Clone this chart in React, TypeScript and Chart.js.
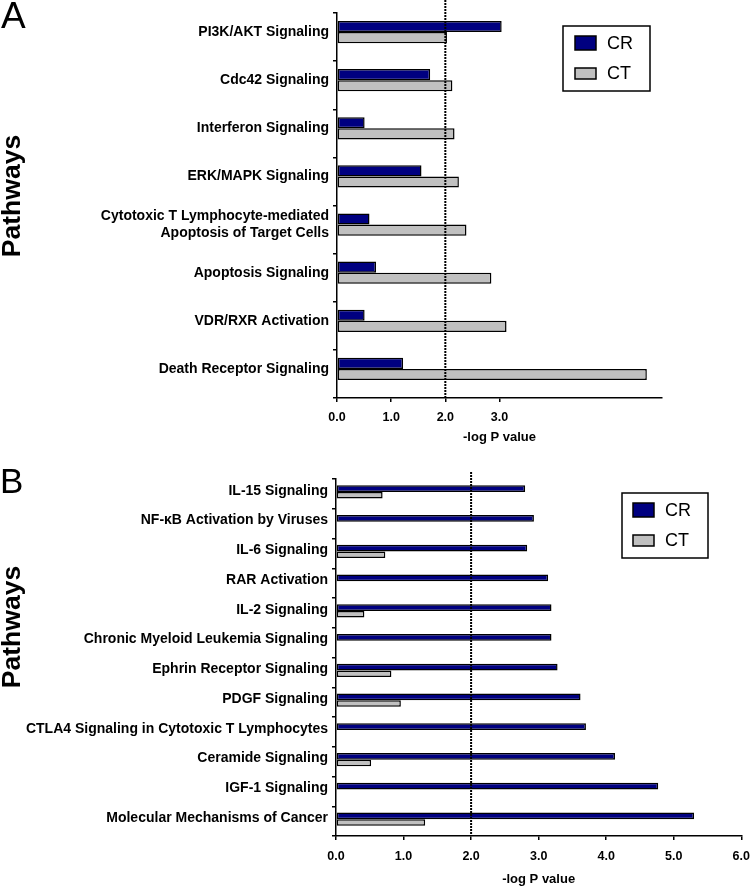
import React, { useEffect, useRef } from 'react';
import { Chart, registerables } from 'chart.js';

Chart.register(...registerables);

const FONT = '"Liberation Sans", Arial, sans-serif';

// ---------- Data ----------
const seriesNames = ['CR', 'CT'];
const seriesColors = ['#000080', '#c0c0c0'];

const pathwaysA: (string | string[])[] = [
  'PI3K/AKT Signaling',
  'Cdc42 Signaling',
  'Interferon Signaling',
  'ERK/MAPK Signaling',
  ['Cytotoxic T Lymphocyte-mediated', 'Apoptosis of Target Cells'],
  'Apoptosis Signaling',
  'VDR/RXR Activation',
  'Death Receptor Signaling',
];
const crA = [3.04, 1.72, 0.51, 1.56, 0.6, 0.72, 0.51, 1.22];
const ctA = [2.03, 2.13, 2.17, 2.25, 2.39, 2.85, 3.13, 5.72];
const xTicksA = [0, 1, 2, 3];

const pathwaysB: string[] = [
  'IL-15 Signaling',
  'NF-κB Activation by Viruses',
  'IL-6 Signaling',
  'RAR Activation',
  'IL-2 Signaling',
  'Chronic Myeloid Leukemia Signaling',
  'Ephrin Receptor Signaling',
  'PDGF Signaling',
  'CTLA4 Signaling in Cytotoxic T Lymphocytes',
  'Ceramide Signaling',
  'IGF-1 Signaling',
  'Molecular Mechanisms of Cancer',
];
const crB = [2.8, 2.93, 2.83, 3.14, 3.19, 3.19, 3.28, 3.62, 3.7, 4.13, 4.77, 5.3];
const ctB = [0.69, null, 0.73, null, 0.42, null, 0.82, 0.96, null, 0.52, null, 1.32];
const xTicksB = [0, 1, 2, 3, 4, 5, 6];

const xMin = 0;
const xMax = 6;
const thresholdValue = 2;
const xTitle = '-log P value';
const yTitle = 'Pathways';

// ---------- Plugin ----------
const overlayPlugin = {
  id: 'overlay',
  afterDatasetsUpdate(chart: any, _args: any, opts: any) {
    const shift = opts.barShift || 0;
    if (!shift) return;
    chart.data.datasets.forEach((_ds: any, i: number) => {
      const meta = chart.getDatasetMeta(i);
      meta.data.forEach((el: any) => {
        el.y += shift;
      });
    });
  },
  afterDatasetsDraw(chart: any, _args: any, opts: any) {
    const ctx = chart.ctx;
    const x = chart.scales.x.getPixelForValue(opts.threshold);
    ctx.save();
    ctx.strokeStyle = '#000';
    ctx.lineWidth = 2;
    ctx.setLineDash([2, 1]);
    ctx.beginPath();
    ctx.moveTo(x, opts.lineTop);
    ctx.lineTo(x, chart.chartArea.bottom);
    ctx.stroke();
    ctx.restore();
  },
  afterDraw(chart: any, _args: any, opts: any) {
    const ctx = chart.ctx;
    const L = opts.legend;
    ctx.save();
    ctx.fillStyle = '#fff';
    ctx.fillRect(L.x, L.y, L.w, L.h);
    ctx.strokeStyle = '#000';
    ctx.lineWidth = 1.5;
    ctx.strokeRect(L.x, L.y, L.w, L.h);
    chart.data.datasets.forEach((ds: any, i: number) => {
      const cy = L.y + L.rows[i];
      const sh = L.swH[i];
      ctx.fillStyle = ds.backgroundColor;
      ctx.fillRect(L.x + L.swX, cy - sh / 2, L.swW, sh);
      ctx.strokeStyle = '#000';
      ctx.lineWidth = 1.5;
      ctx.strokeRect(L.x + L.swX, cy - sh / 2, L.swW, sh);
      ctx.fillStyle = '#000';
      ctx.font = `18px ${FONT}`;
      ctx.textAlign = 'left';
      ctx.textBaseline = 'middle';
      ctx.fillText(ds.label, L.x + L.textX, cy + 1);
    });
    // panel letter
    ctx.fillStyle = '#000';
    ctx.font = `${opts.letterSize}px ${FONT}`;
    ctx.textAlign = 'left';
    ctx.textBaseline = 'alphabetic';
    ctx.fillText(opts.letter, opts.letterX, opts.letterY);
    // y title
    ctx.translate(opts.titleX, opts.titleY);
    ctx.rotate(-Math.PI / 2);
    ctx.font = `bold 26.5px ${FONT}`;
    ctx.textAlign = 'center';
    ctx.textBaseline = 'middle';
    ctx.fillText(opts.yTitle, 0, 0);
    ctx.restore();
  },
};

type PanelProps = {
  top: number;
  height: number;
  labels: (string | string[])[];
  cr: (number | null)[];
  ct: (number | null)[];
  ticks: number[];
  yWidth: number;
  padTop: number;
  padRight: number;
  xHeight: number;
  catPct: number;
  labelSize: number;
  labelOffset: number;
  tickPad: number;
  titlePadBottom: number;
  overlay: any;
};

function Panel(p: PanelProps) {
  const ref = useRef<HTMLCanvasElement | null>(null);
  useEffect(() => {
    if (!ref.current) return;
    const chart = new Chart(ref.current, {
      type: 'bar',
      data: {
        labels: p.labels as any,
        datasets: [
          {
            label: seriesNames[0],
            data: p.cr as any,
            backgroundColor: seriesColors[0],
            borderColor: '#000',
            borderWidth: 1.5,
            borderSkipped: false,
          },
          {
            label: seriesNames[1],
            data: p.ct as any,
            backgroundColor: seriesColors[1],
            borderColor: '#000',
            borderWidth: 1.5,
            borderSkipped: false,
          },
        ],
      },
      options: {
        indexAxis: 'y',
        responsive: false,
        animation: false,
        events: [],
        datasets: {
          bar: { categoryPercentage: p.catPct, barPercentage: 1 },
        },
        layout: { padding: { top: p.padTop, right: p.padRight, left: 0, bottom: 0 } },
        scales: {
          x: {
            type: 'linear',
            min: xMin,
            max: xMax,
            afterBuildTicks: (s: any) => {
              s.ticks = p.ticks.map((v) => ({ value: v }));
            },
            afterFit: (s: any) => {
              s.height = p.xHeight;
              s.paddingRight = Math.max(s.paddingRight - p.tickPad, 0);
            },
            ticks: {
              color: '#000',
              font: { family: FONT, size: 12.5, weight: 'bold' },
              padding: p.tickPad,
              maxRotation: 0,
              autoSkip: false,
              callback: (v: any) => Number(v).toFixed(1),
            },
            grid: {
              drawOnChartArea: false,
              drawTicks: true,
              tickLength: 4,
              color: '#000',
              lineWidth: 1.5,
            },
            border: { display: true, color: '#000', width: 1.5 },
            title: {
              display: true,
              text: xTitle,
              color: '#000',
              font: { family: FONT, size: 13, weight: 'bold' },
              padding: { top: 0, bottom: p.titlePadBottom },
            },
          },
          y: {
            afterFit: (s: any) => {
              s.width = p.yWidth;
            },
            ticks: {
              color: '#000',
              font: { family: FONT, size: p.labelSize, weight: 'bold', lineHeight: 1.2 },
              padding: 4,
              autoSkip: false,
              labelOffset: p.labelOffset,
            },
            grid: {
              offset: true,
              drawOnChartArea: false,
              drawTicks: true,
              tickLength: 4,
              color: '#000',
              lineWidth: 1.5,
            },
            border: { display: true, color: '#000', width: 1.5 },
          },
        },
        plugins: {
          legend: { display: false },
          tooltip: { enabled: false },
          overlay: p.overlay,
        } as any,
      },
      plugins: [overlayPlugin as any],
    });
    return () => chart.destroy();
  }, []);
  return (
    <div style={{ position: 'absolute', left: 0, top: p.top, width: 750, height: p.height }}>
      <canvas ref={ref} width={750} height={p.height} style={{ display: 'block', width: 750, height: p.height }} />
    </div>
  );
}

export default function App() {
  return (
    <div style={{ position: 'absolute', left: 0, top: 0, width: 750, height: 888, background: '#fff', overflow: 'hidden' }}>
      <Panel
        top={0}
        height={460}
        labels={pathwaysA}
        cr={crA}
        ct={ctA}
        ticks={xTicksA}
        yWidth={337}
        padTop={13}
        padRight={88}
        xHeight={62}
        catPct={0.46}
        labelSize={14}
        labelOffset={-5}
        tickPad={8}
        titlePadBottom={15}
        overlay={{
          threshold: thresholdValue,
          barShift: -5,
          lineTop: 0,
          legend: { x: 563, y: 26, w: 87, h: 65, swX: 12, swW: 21, swH: [14, 11], rows: [17, 47.5], textX: 44 },
          letter: 'A',
          letterSize: 37,
          letterX: 1,
          letterY: 28,
          yTitle,
          titleX: 13,
          titleY: 196,
        }}
      />
      <Panel
        top={460}
        height={428}
        labels={pathwaysB}
        cr={crB}
        ct={ctB}
        ticks={xTicksB}
        yWidth={336}
        padTop={19}
        padRight={0}
        xHeight={52}
        catPct={0.44}
        labelSize={14}
        labelOffset={-3}
        tickPad={9}
        titlePadBottom={1}
        overlay={{
          threshold: thresholdValue,
          barShift: -2,
          lineTop: 12,
          legend: { x: 622, y: 33, w: 86, h: 65, swX: 11, swW: 21, swH: [14, 11], rows: [17, 47.5], textX: 43 },
          letter: 'B',
          letterSize: 35,
          letterX: 0,
          letterY: 33,
          yTitle,
          titleX: 13,
          titleY: 167,
        }}
      />
    </div>
  );
}
